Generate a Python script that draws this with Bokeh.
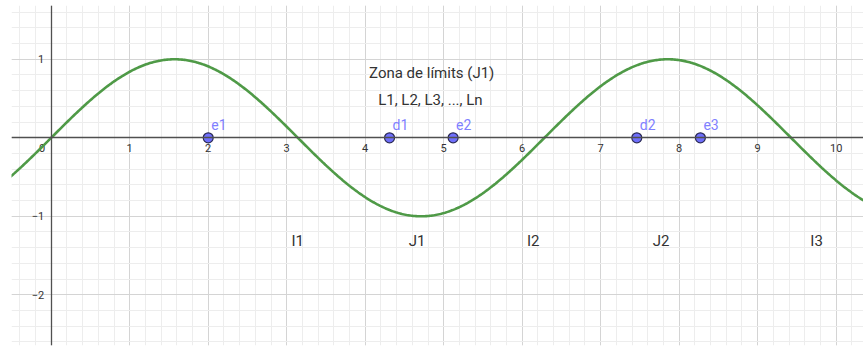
import numpy as np
from bokeh.plotting import figure
from bokeh.models import (Range1d, LinearAxis, SingleIntervalTicker, ColumnDataSource, Grid)
from bokeh.core.properties import value
from bokeh.embed import file_html
from bokeh.resources import INLINE

# ---- data ----
x_ticks = [1, 2, 3, 4, 5, 6, 7, 8, 9, 10]
y_ticks = [-2, -1, 1]
y_tick_labels = ["−2", "−1", "1"]

point_names = ["e1", "d1", "e2", "d2", "e3"]
point_x = [2.0, 4.31, 5.12, 7.46, 8.27]
point_y = [0, 0, 0, 0, 0]

zone_labels = ["I1", "J1", "I2", "J2", "I3"]
zone_x = [3.14, 4.66, 6.14, 7.77, 9.75]
zone_y = [-1.31, -1.31, -1.31, -1.31, -1.31]

note_texts = ["Zona de límits (J1)", "L1, L2, L3, ..., Ln"]
note_x = [4.847, 4.83]
note_y = [0.83, 0.475]

# graph of f(x) = sin(x)
fx = np.linspace(-0.6, 10.4, 700)
fy = np.sin(fx)

FONT = "Roboto"
TXT = "#333333"

p = figure(width=863, height=346, output_backend="svg", toolbar_location=None,
           x_range=Range1d(-0.506, 10.348), y_range=Range1d(-2.646, 1.685),
           x_axis_type=None, y_axis_type=None,
           min_border_left=11, min_border_right=0, min_border_top=5, min_border_bottom=1)
p.outline_line_color = None
p.background_fill_color = "white"
p.border_fill_color = "white"

xt = SingleIntervalTicker(interval=1, num_minor_ticks=5)
yt = SingleIntervalTicker(interval=1, num_minor_ticks=5)

for dim, tk in ((0, xt), (1, yt)):
    g = Grid(dimension=dim, ticker=tk, grid_line_color="#d4d4d4", grid_line_width=1,
             minor_grid_line_color="#ededed", minor_grid_line_width=1)
    p.add_layout(g)

xaxis = LinearAxis(ticker=xt, fixed_location=0)
xaxis.major_label_overrides = {t: str(t) for t in x_ticks} | {0: "", -1: "", 11: ""}
yaxis = LinearAxis(ticker=yt, fixed_location=0)
yaxis.major_label_overrides = {t: l for t, l in zip(y_ticks, y_tick_labels)} | {0: "", 2: "", -3: ""}
for ax in (xaxis, yaxis):
    ax.axis_line_color = "#505050"
    ax.axis_line_width = 1.3
    ax.major_tick_in = 0
    ax.major_tick_out = 0
    ax.minor_tick_in = 0
    ax.minor_tick_out = 0
    ax.major_label_text_font = FONT
    ax.major_label_text_font_size = "11px"
    ax.major_label_text_color = TXT
xaxis.major_label_standoff = 6
yaxis.major_label_standoff = 7
p.add_layout(xaxis, "below")
p.add_layout(yaxis, "left")

# origin label
p.text(x=[0], y=[0], text=["0"], x_offset=-6, y_offset=6, text_align="right",
       text_baseline="top", text_font=value(FONT), text_font_size="11px", text_color=TXT)

# function graph
p.line(fx, fy, line_color="#4f9a47", line_width=2.6)

# points
src = ColumnDataSource(dict(x=point_x, y=point_y, name=point_names))
p.scatter("x", "y", source=src, size=10, fill_color="#6f6ffc", line_color="#2a2a55", line_width=1.2)
p.text("x", "y", text="name", source=src, x_offset=3, y_offset=-13, text_align="left",
       text_baseline="middle", text_font=value(FONT), text_font_size="14px", text_color="#7f7fff")

# zone labels
p.text(zone_x, zone_y, text=zone_labels, text_align="center", text_baseline="middle",
       text_font=value(FONT), text_font_size="15px", text_color=TXT)

# notes
p.text(note_x, note_y, text=note_texts, text_align="center", text_baseline="middle",
       text_font=value(FONT), text_font_size="15px", text_color=TXT)

open("out.html", "w").write(file_html(p, INLINE))
